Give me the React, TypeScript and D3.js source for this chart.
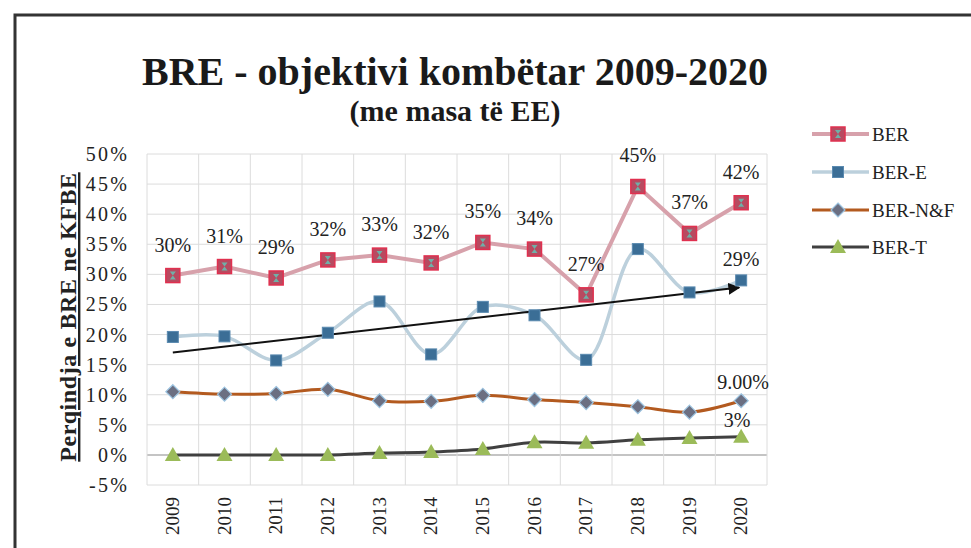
import React from "react";
import * as d3 from "d3";

const years = ["2009","2010","2011","2012","2013","2014","2015","2016","2017","2018","2019","2020"];
const berValues = [29.8, 31.3, 29.4, 32.4, 33.2, 31.9, 35.3, 34.2, 26.6, 44.6, 36.8, 41.9];
const berEValues = [19.6, 19.7, 15.7, 20.3, 25.5, 16.7, 24.6, 23.2, 15.8, 34.2, 27.0, 29.0];
const berNFValues = [10.5, 10.1, 10.2, 10.9, 9.0, 8.9, 9.9, 9.2, 8.7, 8.0, 7.1, 9.0];
const berTValues = [0, 0, 0, 0, 0.3, 0.5, 1.0, 2.1, 2.0, 2.5, 2.8, 3.0];
const yTicks = [-5, 0, 5, 10, 15, 20, 25, 30, 35, 40, 45, 50];
const trendStart = 17.0;
const trendEnd = 27.8;
const legendNames = ["BER", "BER-E", "BER-N&F", "BER-T"];

const FONT = "Liberation Serif, serif";

export default function App() {
  const W = 971, H = 548;
  const x = d3.scaleBand<string>().domain(years).range([147, 767]).padding(0);
  const bw = x.bandwidth();
  const cx = (i: number) => (x(years[i]) as number) + bw / 2;
  const y = d3.scaleLinear().domain([-5, 50]).range([485, 154]);

  const lineStraight = d3.line<number>().x((_, i) => cx(i)).y((d) => y(d));
  const lineSmooth = d3.line<number>().x((_, i) => cx(i)).y((d) => y(d)).curve(d3.curveCatmullRom.alpha(0.5));

  const gridX = years.map((yr) => x(yr) as number).concat([767]);

  const square = (px: number, py: number, s: number, fill: string, stroke: string, key: string) => (
    <rect key={key} x={px - s / 2} y={py - s / 2} width={s} height={s} fill={fill} stroke={stroke} strokeWidth={1} />
  );

  const berMarker = (px: number, py: number, key: string) => (
    <g key={key}>
      <rect x={px - 7} y={py - 7} width={14} height={14} fill="#b84a60" stroke="#e0304f" strokeWidth={1.5} />
      <path d={`M${px - 3},${py - 4} L${px + 3},${py - 4} L${px - 3},${py + 4} L${px + 3},${py + 4} Z`} fill="#6fb0a8" />
    </g>
  );
  const diamond = (px: number, py: number, key: string) => (
    <path key={key} d={`M${px},${py - 7} L${px + 7},${py} L${px},${py + 7} L${px - 7},${py} Z`} fill="#6b6f82" stroke="#9cc3e0" strokeWidth={1.2} />
  );
  const triangle = (px: number, py: number, key: string) => (
    <path key={key} d={`M${px},${py - 8} L${px + 8},${py + 6} L${px - 8},${py + 6} Z`} fill="#9bbb59" />
  );

  const fmt = (v: number) => `${Math.round(v)}%`;

  const legendY = [134, 172, 210, 247];
  const lx1 = 812, lx2 = 869, lmx = 838;
  const ts = { fontFamily: FONT } as React.CSSProperties;

  return (
    <svg width={W} height={H} style={{ position: "absolute", left: 0, top: 0, background: "#fff", fontFamily: FONT }}>
      <rect x={0} y={0} width={W} height={H} fill="#fff" />
      {/* frame */}
      <path d={`M15,${H + 5} L15,15 L${W + 5},15`} fill="none" stroke="#333" strokeWidth={3} />

      {/* title */}
      <text style={ts} x={455} y={85} textAnchor="middle" fontSize={40} fontWeight="bold" fill="#1a1a1a">BRE - objektivi kombëtar 2009-2020</text>
      <text style={ts} x={455} y={121} textAnchor="middle" fontSize={30} fontWeight="bold" fill="#1a1a1a">(me masa të EE)</text>

      {/* grid */}
      {yTicks.map((t) => (
        <line key={"gy" + t} x1={147} x2={767} y1={y(t)} y2={y(t)} stroke={t === 0 ? "#b0b0b0" : "#dcdcdc"} strokeWidth={t === 0 ? 1.5 : 1} />
      ))}
      {gridX.map((gx, i) => (
        <line key={"gx" + i} x1={gx} x2={gx} y1={y(50)} y2={y(-5)} stroke="#dcdcdc" strokeWidth={1} />
      ))}

      {/* y ticks */}
      {yTicks.map((t) => (
        <text style={ts} key={"yt" + t} x={129} y={y(t)} dy="0.35em" textAnchor="end" fontSize={20} letterSpacing={2.2} fill="#222">{`${t}%`}</text>
      ))}

      {/* x ticks */}
      {years.map((yr, i) => (
        <text style={ts} key={"xt" + yr} transform={`translate(${cx(i) + 6},${497}) rotate(-90)`} textAnchor="end" fontSize={19} fill="#222">{yr}</text>
      ))}

      {/* y axis title */}
      <text style={ts} transform={`translate(76,${317}) rotate(-90)`} textAnchor="middle" fontSize={24} fontWeight="bold" letterSpacing={0.6} fill="#222" textDecoration="underline">Perqindja e BRE ne KFBE</text>

      {/* BER-T */}
      <path d={lineSmooth(berTValues) || ""} fill="none" stroke="#404040" strokeWidth={3} />
      {/* BER-N&F */}
      <path d={lineSmooth(berNFValues) || ""} fill="none" stroke="#b35a1f" strokeWidth={3} />
      {/* BER-E */}
      <path d={lineSmooth(berEValues) || ""} fill="none" stroke="#bcd0dc" strokeWidth={3.5} />
      {/* BER */}
      <path d={lineStraight(berValues) || ""} fill="none" stroke="#d7a1ab" strokeWidth={4} />

      {/* trend arrow */}
      <defs>
        <marker id="arrow" viewBox="0 0 10 10" refX={9} refY={5} markerWidth={6} markerHeight={6} orient="auto">
          <path d="M0,0 L10,5 L0,10 Z" fill="#111" />
        </marker>
      </defs>
      <line x1={cx(0)} y1={y(trendStart)} x2={cx(11) - 2} y2={y(trendEnd)} stroke="#111" strokeWidth={2} markerEnd="url(#arrow)" />

      {/* markers */}
      {berTValues.map((v, i) => triangle(cx(i), y(v), "t" + i))}
      {berNFValues.map((v, i) => diamond(cx(i), y(v), "n" + i))}
      {berEValues.map((v, i) => square(cx(i), y(v), 11, "#3b6e96", "#5a8ab0", "e" + i))}
      {berValues.map((v, i) => berMarker(cx(i), y(v), "b" + i))}

      {/* data labels */}
      {berValues.map((v, i) => (
        <text style={ts} key={"bl" + i} x={cx(i)} y={y(v) - 24} textAnchor="middle" fontSize={20} fill="#222">{fmt(v)}</text>
      ))}
      <text style={ts} x={cx(11)} y={y(berEValues[11]) - 14} textAnchor="middle" fontSize={20} fill="#222">{fmt(berEValues[11])}</text>
      <text style={ts} x={cx(11) + 2} y={y(berNFValues[11]) - 12} textAnchor="middle" fontSize={20} fill="#222">{`${berNFValues[11].toFixed(2)}%`}</text>
      <text style={ts} x={cx(11) - 4} y={y(berTValues[11]) - 10} textAnchor="middle" fontSize={20} fill="#222">{fmt(berTValues[11])}</text>

      {/* legend */}
      <g>
        <line x1={lx1} x2={lx2} y1={legendY[0]} y2={legendY[0]} stroke="#d7a1ab" strokeWidth={4} />
        {berMarker(lmx, legendY[0], "lg0")}
        <line x1={lx1} x2={lx2} y1={legendY[1]} y2={legendY[1]} stroke="#bcd0dc" strokeWidth={3.5} />
        {square(lmx, legendY[1], 11, "#3b6e96", "#5a8ab0", "lg1")}
        <line x1={lx1} x2={lx2} y1={legendY[2]} y2={legendY[2]} stroke="#b35a1f" strokeWidth={3} />
        {diamond(lmx, legendY[2], "lg2")}
        <line x1={lx1} x2={lx2} y1={legendY[3]} y2={legendY[3]} stroke="#404040" strokeWidth={3} />
        {triangle(lmx, legendY[3], "lg3")}
        {legendNames.map((n, i) => (
          <text style={ts} key={"ln" + i} x={872} y={legendY[i]} dy="0.35em" fontSize={19} fill="#222">{n}</text>
        ))}
      </g>
    </svg>
  );
}
